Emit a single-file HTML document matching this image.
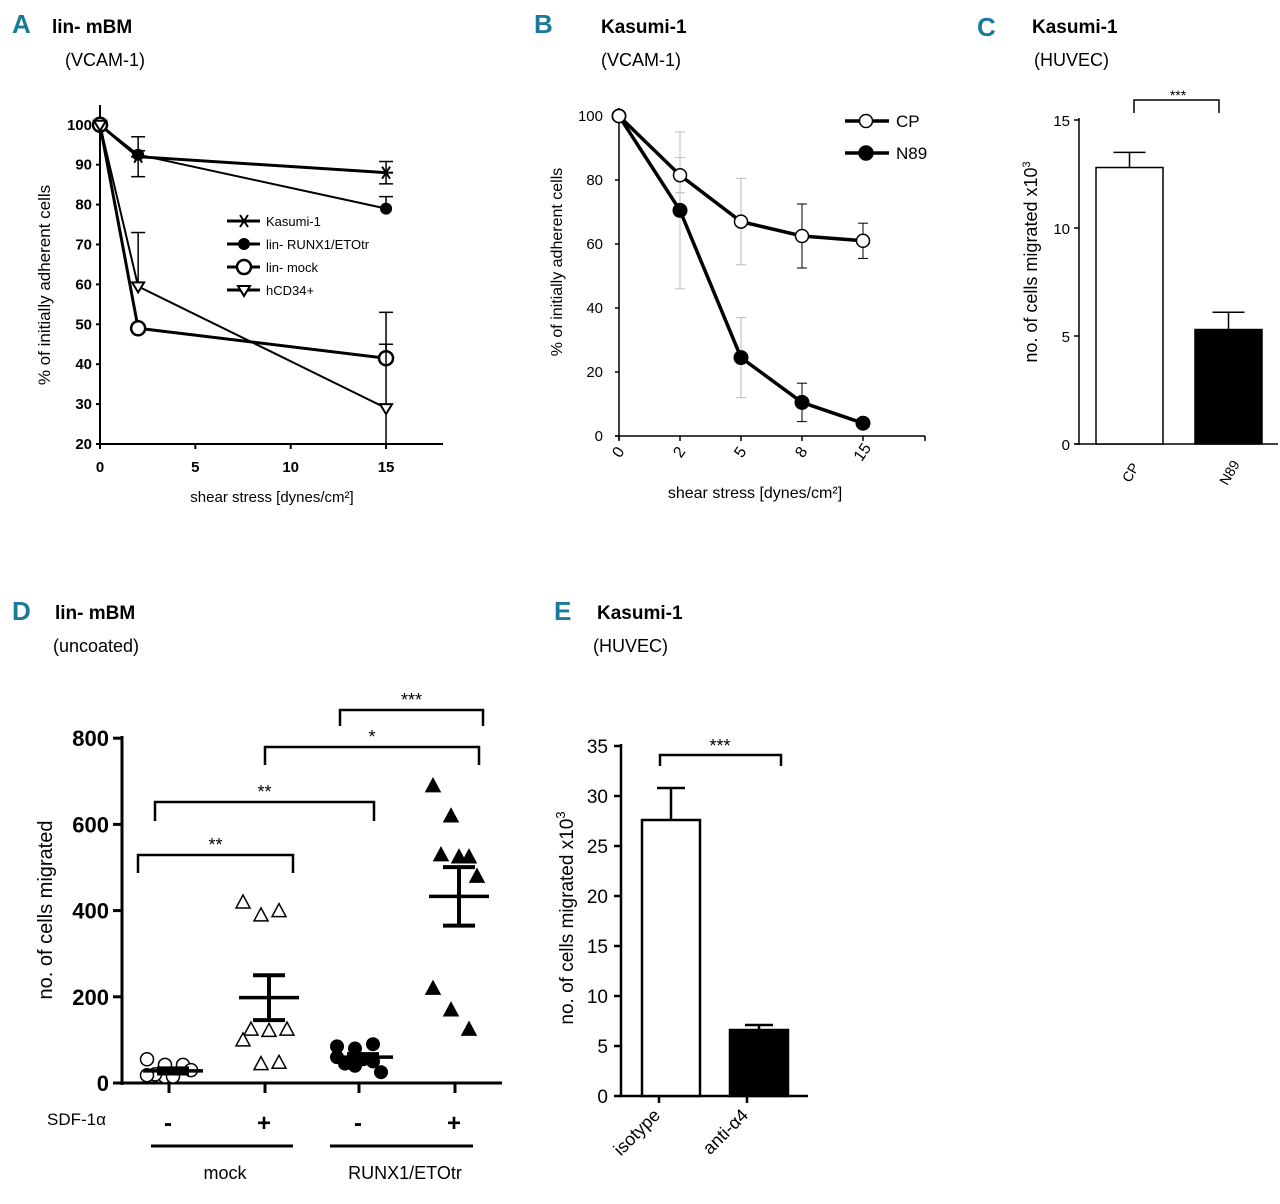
<!DOCTYPE html>
<html><head><meta charset="utf-8"><style>
body{margin:0;background:#fff}
svg{display:block;font-family:"Liberation Sans",sans-serif}
.pl{font-family:"Liberation Sans Narrow","Liberation Sans",sans-serif;font-weight:bold;fill:#1a7a9a;font-size:26px}
.tt{font-weight:bold;font-size:19px}
.st{font-size:18px}
.tk{font-size:15px}
.tkb{font-size:15px;font-weight:bold}
</style></head><body>
<svg id="s" width="1280" height="1204" xmlns="http://www.w3.org/2000/svg">
<text class="pl" x="12" y="33">A</text>
<text class="tt" x="52" y="33">lin- mBM</text>
<text class="st" x="65" y="66">(VCAM-1)</text>
<text class="pl" x="534" y="33">B</text>
<text class="tt" x="601" y="33">Kasumi-1</text>
<text class="st" x="601" y="66">(VCAM-1)</text>
<text class="pl" x="977" y="36">C</text>
<text class="tt" x="1032" y="33">Kasumi-1</text>
<text class="st" x="1034" y="66">(HUVEC)</text>
<text class="pl" x="12" y="620">D</text>
<text class="tt" x="55" y="619">lin- mBM</text>
<text class="st" x="53" y="652">(uncoated)</text>
<text class="pl" x="554" y="620">E</text>
<text class="tt" x="597" y="619">Kasumi-1</text>
<text class="st" x="593" y="652">(HUVEC)</text>
<g id="ga"></g><g id="gb"></g><g id="gc"></g><g id="gd"></g><g id="ge"></g>
</svg>
<script>
// Panel A data
const aX=[0,2,15];
const aKasumi=[100,92,88];
const aKasumiErr=[0,5,2.8];
const aRunx=[100,92.5,79];
const aRunxErr=[0,1,3];
const aMock=[100,49,41.5];
const aMockErr=[0,1,3.5];
const aCd34=[100,59.5,29];
const aCd34Err=[0,13.5,24];
const aYTicks=[20,30,40,50,60,70,80,90,100];
const aXTicks=[0,5,10,15];
const aLegend=["Kasumi-1","lin- RUNX1/ETOtr","lin- mock","hCD34+"];
// Panel B data
const bCats=["0","2","5","8","15"];
const bCP=[100,81.5,67,62.5,61];
const bCPErr=[0,5.5,13.5,10,5.5];
const bN89=[100,70.5,24.5,10.5,4];
const bN89Err=[0,24.5,12.5,6,0];
const bYTicks=[0,20,40,60,80,100];
// Panel C
const cCats=["CP","N89"];
const cVals=[12.8,5.3];
const cErr=[0.7,0.8];
const cYTicks=[0,5,10,15];
// Panel D
const dGroups=["mock-","mock+","runx-","runx+"];
const dMockMinus=[55,15,42,20,15,30,18,42];
const dMockPlus=[420,390,400,125,122,125,100,45,48];
const dRunxMinus=[85,80,90,45,55,25,60,40,50];
const dRunxPlus=[690,620,525,530,525,480,220,170,125];
const dMeans=[28,198,60,433];
const dSem=[6,52,7,68];
const dYTicks=[0,200,400,600,800];
// Panel E
const eCats=["isotype","anti-α4"];
const eVals=[27.6,6.6];
const eErr=[3.2,0.5];
const eYTicks=[0,5,10,15,20,25,30,35];

const NS="http://www.w3.org/2000/svg";
function el(p,t,a,txt){const e=document.createElementNS(NS,t);for(const k in a)e.setAttribute(k,a[k]);if(txt!==undefined)e.textContent=txt;p.appendChild(e);return e;}
function ln(p,x1,y1,x2,y2,w,c){return el(p,'line',{x1,y1,x2,y2,stroke:c||'#000','stroke-width':w||2});}

// ---------- A ----------
(function(){
const g=document.getElementById('ga');
const X=v=>100+v*19.07, Y=v=>444-(v-20)*3.99;
const clip=v=>Math.max(20,Math.min(v,100));
ln(g,100,105,100,446,2); ln(g,96,444,443,444,2);
aYTicks.forEach(t=>{ln(g,96,Y(t),100,Y(t),2);const e=el(g,'text',{x:92,y:Y(t)+5,'text-anchor':'end',class:'tkb'},t);
});
aXTicks.forEach(t=>{ln(g,X(t),444,X(t),449,2);const e=el(g,'text',{x:X(t),y:472,'text-anchor':'middle',class:'tkb'},t);
});
let e=el(g,'text',{x:272,y:502,'text-anchor':'middle',class:'tk','font-size':'16'},'shear stress [dynes/cm²]');

e=el(g,'text',{transform:'translate(50,285) rotate(-90)','text-anchor':'middle','font-size':'17'},'% of initially adherent cells');

const series=[[aKasumi,aKasumiErr,'star',3],[aRunx,aRunxErr,'fill',2],[aMock,aMockErr,'open',3],[aCd34,aCd34Err,'tri',2]];
function mark(p,x,y,k){
 if(k==='fill')return el(p,'circle',{cx:x,cy:y,r:6,fill:'#000'});
 if(k==='open')return el(p,'circle',{cx:x,cy:y,r:7,fill:'#fff',stroke:'#000','stroke-width':2.5});
 if(k==='tri')return el(p,'path',{d:`M${x-6},${y-4}L${x+6},${y-4}L${x},${y+6}Z`,fill:'#fff',stroke:'#000','stroke-width':2});
 const s=el(p,'g',{});ln(s,x-7,y,x+7,y,2);ln(s,x-4,y-6,x+4,y+6,2);ln(s,x+4,y-6,x-4,y+6,2);return s;}
series.forEach(([v,er,k,w],si)=>{
 const sg=el(g,'g',{});
 el(sg,'polyline',{points:v.map((d,i)=>X(aX[i])+','+Y(d)).join(' '),fill:'none',stroke:'#000','stroke-width':w});
 v.forEach((d,i)=>{if(er[i]>0){const hi=clip(d+er[i]),lo=clip(d-er[i]);
  ln(sg,X(aX[i]),Y(d),X(aX[i]),Y(hi),1.5);ln(sg,X(aX[i])-7,Y(hi),X(aX[i])+7,Y(hi),1.5);
  if(k==='star'||(k==='tri'&&i===2)){ln(sg,X(aX[i]),Y(d),X(aX[i]),Y(lo),1.5);if(lo>20)ln(sg,X(aX[i])-7,Y(lo),X(aX[i])+7,Y(lo),1.5);}}
  mark(sg,X(aX[i]),Y(d),k);});
 const ly=221+si*23;const lg=el(g,'g',{});
 ln(lg,227,ly,260,ly,3);mark(lg,244,ly,k);el(lg,'text',{x:266,y:ly+5,'font-size':'13'},aLegend[si]);
});
})();

// ---------- B ----------
(function(){
const g=document.getElementById('gb');
const X=i=>619+i*61, Y=v=>436-v*3.2;
ln(g,619,108,619,440,1.5); ln(g,615,436,925,436,1.5);
bYTicks.forEach(t=>{ln(g,615,Y(t),619,Y(t),1.5);const e=el(g,'text',{x:603,y:Y(t)+5,'text-anchor':'end','font-size':'15'},t);
});
bCats.forEach((t,i)=>{ln(g,X(i),436,X(i),441,1.5);const e=el(g,'text',{x:X(i)+2,y:458,'text-anchor':'middle','font-size':'16',transform:`rotate(-55 ${X(i)} 455)`},t);
});
ln(g,925,436,925,441,1.5);
let e=el(g,'text',{x:755,y:498,'text-anchor':'middle','font-size':'16'},'shear stress [dynes/cm²]');

e=el(g,'text',{transform:'translate(562,262) rotate(-90)','text-anchor':'middle','font-size':'16'},'% of initially adherent cells');

[[bN89,bN89Err,true],[bCP,bCPErr,false]].forEach(([v,er,f])=>{
 const sg=el(g,'g',{});
 v.forEach((d,i)=>{if(er[i]>0){const c=(i===1||i===2)?'#bbb':'#000';ln(sg,X(i),Y(d-er[i]),X(i),Y(d+er[i]),1,c);ln(sg,X(i)-5,Y(d-er[i]),X(i)+5,Y(d-er[i]),1,c);ln(sg,X(i)-5,Y(d+er[i]),X(i)+5,Y(d+er[i]),1,c);}});
 el(sg,'polyline',{points:v.map((d,i)=>X(i)+','+Y(d)).join(' '),fill:'none',stroke:'#000','stroke-width':3.5});
 v.forEach((d,i)=>el(sg,'circle',{cx:X(i),cy:Y(d),r:f?7:6.5,fill:f?'#000':'#fff',stroke:'#000','stroke-width':f?1:1.5}));
});
[['CP',121,false],['N89',153,true]].forEach(([t,y,f])=>{const lg=el(g,'g',{});
 ln(lg,845,y,889,y,3.5);el(lg,'circle',{cx:866,cy:y,r:f?7:6.5,fill:f?'#000':'#fff',stroke:'#000','stroke-width':1.5});el(lg,'text',{x:896,y:y+6,'font-size':'17'},t);});
})();

// ---------- C ----------
(function(){
const g=document.getElementById('gc');
const Y=v=>444-v*21.6, BX=[1096,1195], BW=67;
ln(g,1079,118,1079,445,1.5); ln(g,1075,444,1278,444,1.5);
cYTicks.forEach(t=>{ln(g,1074,Y(t),1079,Y(t),1.5);const e=el(g,'text',{x:1070,y:Y(t)+6,'text-anchor':'end','font-size':'15'},t);
});
cVals.forEach((v,i)=>{const b=el(g,'rect',{x:BX[i],y:Y(v),width:BW,height:Y(0)-Y(v),fill:i?'#000':'#fff',stroke:'#000','stroke-width':1.5});

const cx=BX[i]+BW/2;ln(g,cx,Y(v),cx,Y(v+cErr[i]),1.5);ln(g,cx-16,Y(v+cErr[i]),cx+16,Y(v+cErr[i]),1.5);
const t=el(g,'text',{x:cx,y:478,'text-anchor':'middle','font-size':'14',transform:`rotate(-60 ${cx} 472)`},cCats[i]);
});
el(g,'path',{d:'M1134,113V100H1219V113',fill:'none',stroke:'#000','stroke-width':1.5});
el(g,'text',{x:1178,y:100,'text-anchor':'middle','font-size':'14'},'***');
let e=el(g,'text',{transform:'translate(1037,262) rotate(-90)','text-anchor':'middle','font-size':'18'});
e.innerHTML='no. of cells migrated  x10<tspan dy="-7" font-size="11">3</tspan>';

})();

// ---------- D ----------
(function(){
const g=document.getElementById('gd');
const Y=v=>1083-v*0.431, GX=[169,265,359,455];
ln(g,122,736,122,1085,3); ln(g,120,1083,502,1083,3);
dYTicks.forEach(t=>{ln(g,113,Y(t),122,Y(t),3);const e=el(g,'text',{x:109,y:Y(t)+8,'text-anchor':'end','font-size':'22','font-weight':'bold'},t);
});
GX.forEach(x=>ln(g,x,1083,x,1093,3));
let e=el(g,'text',{transform:'translate(52,910) rotate(-90)','text-anchor':'middle','font-size':'20'},'no. of cells migrated');

const sets=[[dMockMinus,'open'],[dMockPlus,'tri-open'],[dRunxMinus,'fill'],[dRunxPlus,'tri-fill']];
sets.forEach(([vals,k],gi)=>{
 const sg=el(g,'g',{});
 vals.forEach((v,i)=>{
  const dx=(i%3-1)*18+((i/3|0)%2?8:0)-4, x=GX[gi]+dx, y=Y(v);
  if(k==='open')el(sg,'circle',{cx:x,cy:y,r:6.5,fill:'#fff',stroke:'#000','stroke-width':1.5});
  else if(k==='fill')el(sg,'circle',{cx:x,cy:y,r:7,fill:'#000'});
  else el(sg,'path',{d:`M${x},${y-7}L${x+7},${y+6}L${x-7},${y+6}Z`,fill:k==='tri-fill'?'#000':'#fff',stroke:'#000','stroke-width':1.5});
 });
 const m=el(g,'g',{});
 const cx=GX[gi]+4;ln(m,cx-30,Y(dMeans[gi]),cx+30,Y(dMeans[gi]),3.5);
 ln(m,cx,Y(dMeans[gi]-dSem[gi]),cx,Y(dMeans[gi]+dSem[gi]),4);
 ln(m,cx-16,Y(dMeans[gi]-dSem[gi]),cx+16,Y(dMeans[gi]-dSem[gi]),4);ln(m,cx-16,Y(dMeans[gi]+dSem[gi]),cx+16,Y(dMeans[gi]+dSem[gi]),4);
});
[[138,293,855,873,'**'],[155,374,802,821,'**'],[265,479,747,765,'*'],[340,483,710,726,'***']].forEach(([a,b,y,y2,s])=>{
 el(g,'path',{d:`M${a},${y2}V${y}H${b}V${y2}`,fill:'none',stroke:'#000','stroke-width':2.5});
 el(g,'text',{x:(a+b)/2,y:y-4,'text-anchor':'middle','font-size':'18'},s);});
el(g,'text',{x:47,y:1125,'font-size':'17'},'SDF-1α');
['-','+','-','+'].forEach((s,i)=>el(g,'text',{x:GX[i]-1,y:1131,'text-anchor':'middle','font-size':'24','font-weight':'bold'},s));
ln(g,151,1146,293,1146,3);ln(g,330,1146,473,1146,3);
el(g,'text',{x:225,y:1179,'text-anchor':'middle','font-size':'18'},'mock');
el(g,'text',{x:405,y:1179,'text-anchor':'middle','font-size':'18'},'RUNX1/ETOtr');
})();

// ---------- E ----------
(function(){
const g=document.getElementById('ge');
const Y=v=>1096-v*10, BX=[642,730], BW=58;
ln(g,621,744,621,1097,2.5); ln(g,619,1096,808,1096,2.5);
eYTicks.forEach(t=>{ln(g,614,Y(t),621,Y(t),2.5);const e=el(g,'text',{x:608,y:Y(t)+7,'text-anchor':'end','font-size':'19'},t);
});
eVals.forEach((v,i)=>{const b=el(g,'rect',{x:BX[i],y:Y(v),width:BW,height:Y(0)-Y(v),fill:i?'#000':'#fff',stroke:'#000','stroke-width':2.5});

const cx=BX[i]+BW/2;ln(g,cx,Y(v),cx,Y(v+eErr[i]),2.5);ln(g,cx-14,Y(v+eErr[i]),cx+14,Y(v+eErr[i]),2.5);
ln(g,cx-12,1096,cx-12,1103,2.5);
const t=el(g,'text',{x:cx-14,y:1118,'text-anchor':'end','font-size':'18',transform:`rotate(-45 ${cx-14} 1112)`},eCats[i]);
});
el(g,'path',{d:'M660,766V755H781V766',fill:'none',stroke:'#000','stroke-width':2.5});
el(g,'text',{x:720,y:752,'text-anchor':'middle','font-size':'18'},'***');
let e=el(g,'text',{transform:'translate(573,918) rotate(-90)','text-anchor':'middle','font-size':'19'});
e.innerHTML='no. of cells migrated  x10<tspan dy="-8" font-size="13">3</tspan>';

})();
</script>
</body></html>
